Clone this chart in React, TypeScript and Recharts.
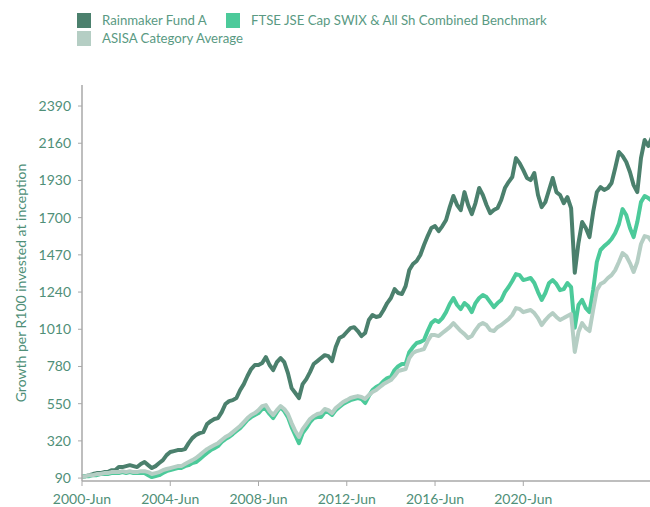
import { LineChart, Line, XAxis, YAxis } from 'recharts';

// bi-monthly points, starting June 2000
const startYear = 2000;
const startMonth = 5;
const monthNames = ['Jan', 'Feb', 'Mar', 'Apr', 'May', 'Jun', 'Jul', 'Aug', 'Sep', 'Oct', 'Nov', 'Dec'];

const rainmaker = [
  100, 102, 108, 115, 121, 121, 127, 127, 139, 139,
  158, 158, 164, 170, 164, 158, 177, 189, 170, 152,
  164, 183, 201, 232, 251, 257, 263, 263, 269, 306,
  337, 356, 368, 374, 424, 442, 455, 461, 498, 548,
  566, 572, 585, 634, 671, 721, 764, 789, 789, 801,
  838, 789, 758, 807, 832, 807, 739, 646, 616, 585,
  671, 702, 745, 795, 813, 832, 850, 844, 813, 900,
  956, 968, 993, 1017, 1023, 999, 968, 987, 1067, 1098,
  1086, 1092, 1129, 1172, 1203, 1258, 1234, 1228, 1277, 1376,
  1413, 1432, 1469, 1531, 1586, 1636, 1648, 1617, 1648, 1685,
  1765, 1834, 1778, 1747, 1858, 1778, 1722, 1790, 1883, 1840,
  1778, 1728, 1747, 1759, 1809, 1883, 1920, 1951, 2068, 2037,
  1994, 1945, 1932, 1976, 1840, 1765, 1796, 1871, 1945, 1858,
  1840, 1790, 1827, 1759, 1360, 1543, 1673, 1636, 1580, 1735,
  1858, 1889, 1871, 1883, 1914, 2007, 2106, 2081, 2044, 1982,
  1901, 1858, 2068, 2180, 2143, 2198,
];

const benchmark = [
  100, 102, 102, 108, 108, 115, 115, 115, 121, 121,
  121, 127, 121, 127, 121, 121, 121, 121, 108, 96,
  102, 108, 121, 133, 139, 146, 152, 152, 164, 170,
  183, 189, 207, 226, 245, 263, 275, 288, 313, 331,
  344, 362, 381, 399, 424, 449, 467, 480, 492, 517,
  517, 486, 461, 498, 529, 504, 467, 405, 356, 306,
  368, 399, 436, 461, 467, 467, 498, 498, 480, 510,
  529, 548, 560, 572, 579, 585, 579, 554, 597, 634,
  653, 665, 690, 708, 715, 758, 782, 795, 795, 869,
  900, 925, 931, 943, 999, 1048, 1067, 1055, 1079, 1116,
  1166, 1203, 1160, 1135, 1172, 1153, 1116, 1172, 1203, 1221,
  1209, 1178, 1147, 1172, 1191, 1240, 1271, 1308, 1351, 1345,
  1314, 1320, 1327, 1296, 1240, 1191, 1234, 1296, 1314, 1290,
  1252, 1258, 1296, 1271, 1020, 1160, 1191, 1141, 1116, 1252,
  1426, 1500, 1524, 1543, 1568, 1605, 1660, 1753, 1716, 1636,
  1580, 1673, 1796, 1834, 1821, 1803,
];

const asisa = [
  100, 102, 108, 108, 115, 115, 121, 121, 127, 127,
  127, 133, 127, 133, 127, 127, 133, 133, 127, 115,
  121, 127, 139, 146, 152, 158, 164, 164, 177, 189,
  201, 214, 232, 251, 269, 282, 294, 306, 325, 344,
  356, 374, 393, 412, 436, 461, 480, 492, 510, 535,
  541, 504, 480, 510, 535, 517, 486, 430, 381, 344,
  393, 424, 455, 473, 486, 492, 517, 510, 492, 523,
  541, 560, 572, 585, 591, 597, 591, 579, 603, 622,
  634, 653, 671, 684, 696, 721, 752, 758, 764, 832,
  863, 875, 881, 888, 937, 974, 974, 968, 987, 1005,
  1023, 1048, 1023, 999, 980, 956, 968, 1005, 1036, 1048,
  1036, 1005, 999, 1023, 1036, 1055, 1073, 1098, 1141, 1135,
  1116, 1123, 1129, 1110, 1079, 1036, 1067, 1092, 1110, 1086,
  1067, 1079, 1092, 1104, 870, 993, 1048, 1017, 999, 1129,
  1252, 1290, 1302, 1327, 1345, 1376, 1426, 1481, 1463, 1419,
  1364, 1426, 1537, 1586, 1580, 1549,
];

const xTicks = ['2000-Jun', '2004-Jun', '2008-Jun', '2012-Jun', '2016-Jun', '2020-Jun'];
const yTicks = [90, 320, 550, 780, 1010, 1240, 1470, 1700, 1930, 2160, 2390];

const seriesNames = ['Rainmaker Fund A', 'FTSE JSE Cap SWIX & All Sh Combined Benchmark', 'ASISA Category Average'];
const colors = ['#4b806d', '#4cca9a', '#b5cec4'];
const textColor = '#4f8f78';
const axisColor = '#a8a8a8';

const data = rainmaker.map((v, i) => {
  const m = startMonth + i * 2;
  return {
    date: `${startYear + Math.floor(m / 12)}-${monthNames[m % 12]}`,
    rainmaker: v,
    benchmark: benchmark[i],
    asisa: asisa[i],
  };
});

const LegendItem = ({ color, label, x, y }: { color: string; label: string; x: number; y: number }) => (
  <div style={{ position: 'absolute', left: x, top: y, display: 'flex', alignItems: 'center', whiteSpace: 'nowrap' }}>
    <div style={{ width: 14, height: 15, background: color, marginRight: 11 }} />
    <span style={{ fontSize: 13.2, color: '#5a9a83', lineHeight: '15px' }}>{label}</span>
  </div>
);

export default function App() {
  return (
    <div style={{ position: 'absolute', top: 0, left: 0, width: 650, height: 507, overflow: 'hidden', fontFamily: 'Lato, sans-serif', background: '#fff' }}>
      <LegendItem color={colors[0]} label={seriesNames[0]} x={77} y={13} />
      <LegendItem color={colors[1]} label={seriesNames[1]} x={226} y={13} />
      <LegendItem color={colors[2]} label={seriesNames[2]} x={77} y={31} />

      <LineChart width={652} height={507} data={data} margin={{ top: 85, right: 0, bottom: 0, left: 0 }}>
        <XAxis
          dataKey="date"
          ticks={xTicks}
          interval={0}
          height={26}
          tick={{ fontSize: 14, fill: textColor }}
          tickSize={5}
          tickMargin={8}
          axisLine={{ stroke: axisColor, strokeWidth: 1.5 }}
          tickLine={{ stroke: axisColor }}
        />
        <YAxis
          width={82}
          domain={[72, 2520]}
          ticks={yTicks}
          tick={{ fontSize: 14, fill: textColor }}
          tickSize={4}
          tickMargin={7}
          axisLine={{ stroke: axisColor, strokeWidth: 1.5 }}
          tickLine={{ stroke: axisColor }}
          label={{
            value: 'Growth per R100 invested at inception',
            angle: -90,
            position: 'insideLeft',
            offset: 21,
            style: { textAnchor: 'middle', fontSize: 14, fill: textColor },
          }}
        />
        <Line type="linear" dataKey="rainmaker" name={seriesNames[0]} stroke={colors[0]} strokeWidth={4} dot={false} isAnimationActive={false} strokeLinejoin="round" />
        <Line type="linear" dataKey="benchmark" name={seriesNames[1]} stroke={colors[1]} strokeWidth={4} dot={false} isAnimationActive={false} strokeLinejoin="round" />
        <Line type="linear" dataKey="asisa" name={seriesNames[2]} stroke={colors[2]} strokeWidth={4} dot={false} isAnimationActive={false} strokeLinejoin="round" />
      </LineChart>
    </div>
  );
}
